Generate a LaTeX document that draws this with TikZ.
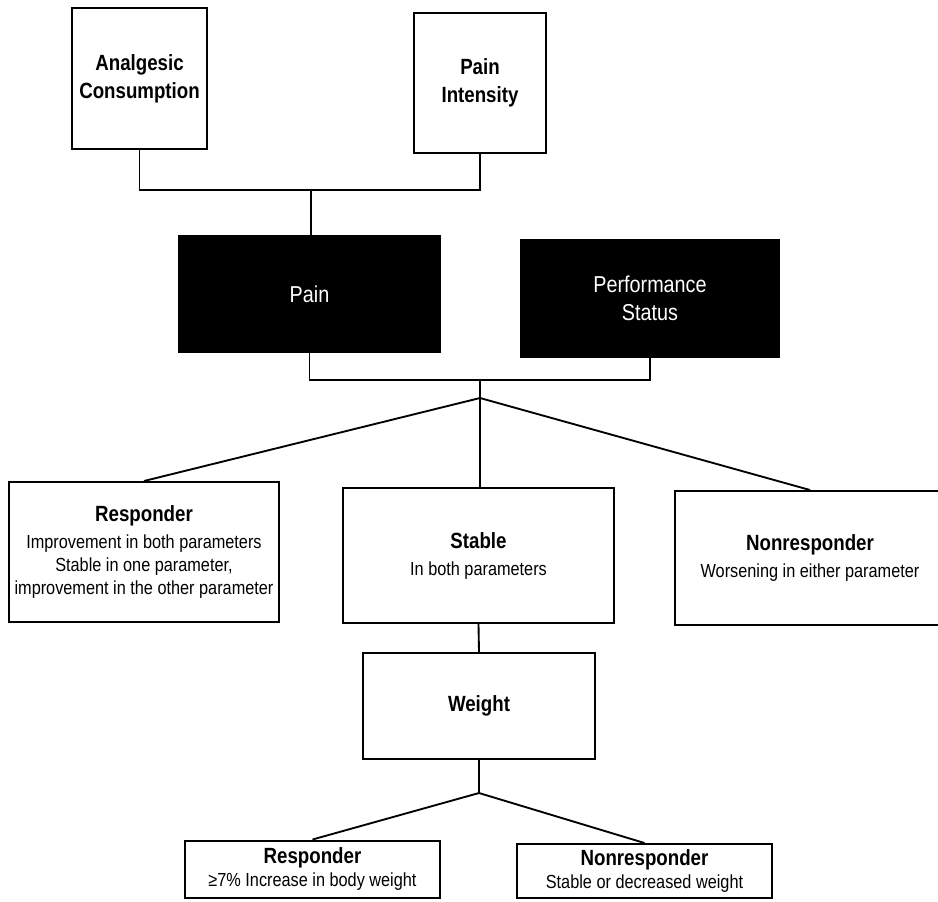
\documentclass[tikz,border=0pt]{standalone}
\usepackage{fontspec}
\setmainfont{Liberation Sans}
\newfontfamily\hdfont{Liberation Sans}[FakeStretch=0.85]
\newfontfamily\txfont{Liberation Sans}[FakeStretch=0.86]
\usepackage{tikz}

\newcommand{\boxhead}[1]{{\hdfont\bfseries\fontsize{16.5}{20}\selectfont #1}}

\begin{document}
\begin{tikzpicture}[x=0.75pt,y=0.75pt,yscale=-1,xscale=1,
  box/.style={draw, line width=1.5pt, inner sep=2pt, align=center,
    font=\txfont\fontsize{14.2}{17.25}\selectfont},
  topbox/.style={box, font=\hdfont\bfseries\fontsize{16.5}{21}\selectfont},
  darkbox/.style={box, fill=black, text=white,
    font=\txfont\fontsize{17.25}{21}\selectfont},
  link/.style={line width=1.4pt}]
\useasboundingbox (0,0) rectangle (938,901); %set diagram size 938 x 901

% Text Node
\node [topbox, minimum width=101.25pt, minimum height=105.75pt] (anal) at (139.5,78.5) {Analgesic\\Consumption};
% Text Node
\node [topbox, minimum width=99pt, minimum height=105pt] (inten) at (480,83) {Pain\\Intensity};
% Text Node
\node [darkbox, minimum width=195.75pt, minimum height=87pt] (pain) at (309.5,294) {Pain};
% Text Node
\node [darkbox, minimum width=193.5pt, minimum height=87.75pt] (perf) at (650,298.5) {Performance\\Status};
% Text Node
\node [box, minimum width=202.5pt, minimum height=105pt] (resp) at (144,552) {\boxhead{Responder}\\[3pt] Improvement in both parameters\\ Stable in one parameter,\\ improvement in the other parameter};
% Text Node
\node [box, minimum width=203.25pt, minimum height=101.25pt] (stab) at (478.5,555.5) {\boxhead{Stable}\\[3pt] In both parameters};
% Text Node
\node [box, minimum width=202.5pt, minimum height=100.5pt] (nonr) at (810,558) {\boxhead{Nonresponder}\\[3pt] Worsening in either parameter};
% Text Node
\node [box, minimum width=174pt, minimum height=79.5pt] (weight) at (479,706) {\boxhead{Weight}};
% Text Node
\node [box, inner sep=1pt, minimum width=191.25pt, minimum height=42.75pt] (wresp) at (312.5,869) {\boxhead{Responder}\\ ≥7\% Increase in body weight};
% Text Node
\node [box, inner sep=1pt, minimum width=191.25pt, minimum height=40.5pt] (wnonr) at (644.5,871) {\boxhead{Nonresponder}\\ Stable or decreased weight};

\coordinate (top1) at (311,190);
\coordinate (mid1) at (480,380);
\coordinate (apex1) at (480,398);
\coordinate (apex2) at (479,793);

%Straight Lines
\draw [link] (anal.south) |- (top1) -| (inten.south);
\draw [link] (top1) -- (top1 |- pain.north);
%Straight Lines
\draw [link] (pain.south) |- (mid1) -| (perf.south);
\draw [link] (mid1) -- (apex1);
%Straight Lines
\draw [link] (resp.north) -- (apex1) -- (nonr.north);
\draw [link] (apex1) -- (apex1 |- stab.north);
%Straight Lines
\draw [link] (stab.south) -- (weight.north);
\draw [link] (weight.south) -- (apex2);
\draw [link] (wresp.north) -- (apex2) -- (wnonr.north);

\end{tikzpicture}
\end{document}
